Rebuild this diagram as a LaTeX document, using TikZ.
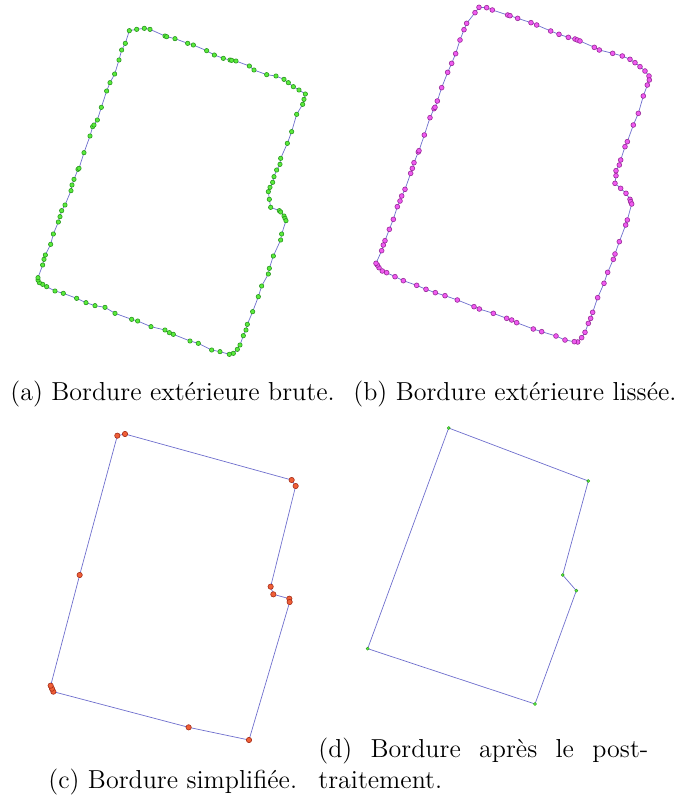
\documentclass[tikz,border=0pt]{standalone}
\definecolor{edgeblue}{RGB}{110,110,205}
\definecolor{ptgreen}{RGB}{90,235,60}
\definecolor{ptgreendark}{RGB}{40,150,30}
\definecolor{ptmagenta}{RGB}{240,90,240}
\definecolor{ptmagentadark}{RGB}{150,40,150}
\definecolor{ptred}{RGB}{240,95,55}
\definecolor{ptreddark}{RGB}{165,45,25}
\tikzset{
  border/.style={draw=edgeblue, line width=0.35pt, line join=round},
  % marks are shrunk with the scope scale, hence the large sizes
  rawpts/.style={border, mark=*, mark size=3.3pt, mark options={draw=ptgreendark, fill=ptgreen, line width=0.3pt}},
  smoothpts/.style={border, mark=*, mark size=3.6pt, mark options={draw=ptmagentadark, fill=ptmagenta, line width=0.3pt}},
  simplepts/.style={border, mark=*, mark size=4pt, mark options={draw=ptreddark, fill=ptred, line width=0.3pt}},
  finalpts/.style={border, mark=*, mark size=2.4pt, mark options={draw=ptgreendark, fill=ptgreen, line width=0.2pt}},
  caption/.style={anchor=base west, inner sep=0pt, font=\fontsize{13}{15.5}\selectfont},
}
\begin{document}
\begin{tikzpicture}[x=0.5pt, y=-0.5pt]
        \useasboundingbox (0,0) rectangle (685,799);
        % (a) raw outer border
        \begin{scope}[shift={(30,0)}, scale=1/3]
        \draw[rawpts] plot coordinates {(298,92) (320,88) (343,85) (360,88) (405,108) (410,110) (435,116) (473,130) (490,135) (530,152) (553,165) (580,175) (600,180) (605,181) (618,183) (658,198) (672,210) (710,224) (738,228) (762,238) (775,248) (790,260) (807,270) (826,282) (822,298) (818,313) (800,343) (785,395) (772,430) (752,475) (750,493) (740,510) (732,530) (728,547) (720,562) (715,575) (718,598) (722,622) (748,632) (752,636) (762,648) (765,655) (768,662) (755,702) (752,720) (730,768) (718,805) (715,822) (695,858) (685,890) (668,935) (652,973) (648,990) (640,1007) (630,1035) (622,1048) (610,1060) (598,1063) (570,1055) (545,1050) (505,1030) (480,1023) (430,1003) (418,998) (405,990) (363,980) (323,963) (305,958) (255,940) (225,922) (195,917) (168,908) (140,895) (100,880) (75,873) (50,860) (38,853) (28,848) (24,840) (24,833) (38,795) (42,778) (46,765) (62,733) (70,702) (85,666) (90,650) (95,632) (105,615) (123,572) (126,555) (132,538) (144,508) (147,505) (162,458) (180,408) (188,380) (192,375) (202,360) (214,322) (230,273) (240,248) (254,222) (267,180) (275,150) (286,130)} -- cycle;
        \end{scope}
        % (b) smoothed outer border
        \begin{scope}[shift={(360,0)}, scale=1/3]
        \draw[smoothpts] plot coordinates {(357,22) (380,23) (397,30) (443,45) (450,47) (473,55) (513,68) (530,75) (572,93) (597,103) (625,112) (645,117) (652,120) (660,123) (703,142) (718,150) (758,160) (787,168) (810,178) (825,188) (840,200) (855,213) (867,228) (868,240) (862,255) (850,288) (835,340) (820,375) (802,425) (795,440) (782,480) (778,495) (768,512) (768,527) (765,550) (782,565) (798,580) (810,598) (812,605) (815,612) (802,660) (797,675) (778,725) (765,762) (760,778) (743,817) (732,850) (713,893) (698,937) (692,955) (685,970) (675,997) (665,1013) (653,1026) (643,1025) (615,1020) (588,1008) (545,995) (520,987) (470,968) (455,960) (440,955) (400,940) (358,927) (342,920) (292,900) (255,887) (226,878) (198,868) (170,856) (130,842) (105,830) (80,818) (67,813) (57,803) (52,795) (48,790) (65,752) (70,735) (75,722) (88,688) (100,658) (112,620) (120,603) (125,588) (135,568) (152,520) (157,505) (162,488) (175,456) (177,452) (193,405) (210,353) (222,326) (225,322) (232,303) (245,263) (263,217) (275,190) (287,161) (300,120) (312,89) (320,70) (345,38)} -- cycle;
        \end{scope}
        % (c) simplified border
        \begin{scope}[shift={(30,420)}, scale=1/3]
        \draw[simplepts] plot coordinates {(262,47) (285,42) (785,180) (797,198) (722,500) (730,523) (778,536) (779,546) (657,960) (476,922) (70,815) (66,806) (62,797) (149,465)} -- cycle;
        \end{scope}
        % (d) after post-processing
        \begin{scope}[shift={(350,420)}, scale=1/3]
        \draw[finalpts] plot coordinates {(296,24) (715,183) (638,465) (679,512) (555,852) (53,686)} -- cycle;
        \end{scope}
        \node[caption] (capa) at (10,400) {(a) Bordure extérieure brute.};
        \node[caption] (capb) at (353,400) {(b) Bordure extérieure lissée.};
        \node[caption] (capc) at (48,788) {(c) Bordure simplifiée.};
        \node[caption, text width=165pt, align=justify] (capd) at (318,757) {(d) Bordure après le post-\linebreak traitement.};
\end{tikzpicture}
\end{document}
